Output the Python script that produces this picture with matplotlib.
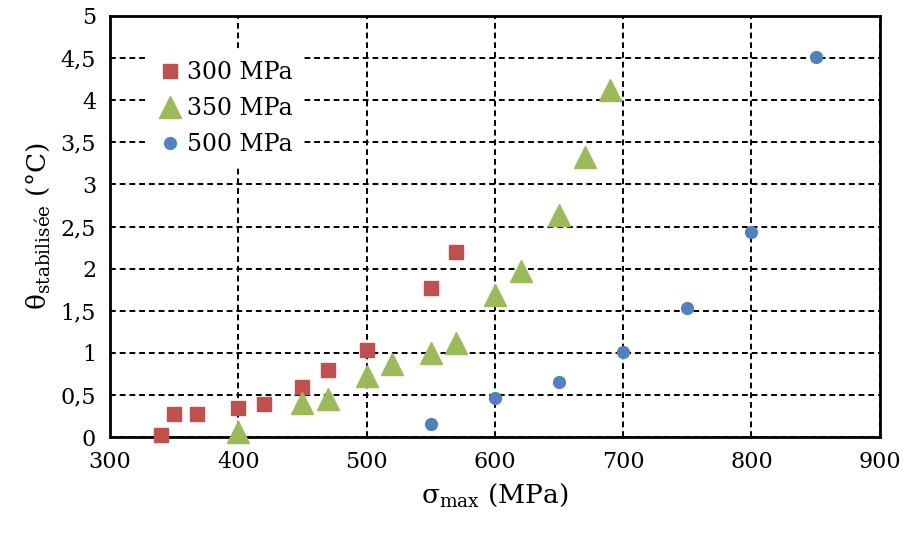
#!/usr/bin/env python3

"""Stabilised temperature vs max stress, three loading levels."""

import matplotlib
matplotlib.use("Agg")
import matplotlib.pyplot as plt
from matplotlib.ticker import FuncFormatter, MultipleLocator

plt.rcParams["font.family"] = "DejaVu Serif"
plt.rcParams["mathtext.fontset"] = "dejavuserif"

# 300 MPa series
x_300 = [340, 350, 368, 400, 420, 450, 470, 500, 550, 570]
y_300 = [0.02, 0.27, 0.27, 0.34, 0.39, 0.60, 0.80, 1.03, 1.77, 2.20]

# 350 MPa series
x_350 = [400, 450, 470, 500, 520, 550, 570, 600, 620, 650, 670, 690]
y_350 = [0.06, 0.40, 0.45, 0.73, 0.87, 1.00, 1.12, 1.69, 1.97, 2.64, 3.33, 4.12]

# 500 MPa series
x_500 = [550, 600, 650, 700, 750, 800, 850]
y_500 = [0.15, 0.46, 0.65, 1.01, 1.53, 2.43, 4.51]

labels = ["300 MPa", "350 MPa", "500 MPa"]


def comma(v, pos):
    s = ("%g" % v)
    return s.replace(".", ",")


fig = plt.figure(figsize=(9.06, 5.33), dpi=100)
ax = fig.add_axes([0.1214, 0.180, 0.8496, 0.790])

ax.plot(x_300, y_300, "s", color="#C0504D", markersize=9.5, label=labels[0],
        zorder=3, clip_on=False)
ax.plot(x_350, y_350, "^", color="#9BBB59", markersize=16, label=labels[1],
        zorder=3, clip_on=False)
ax.plot(x_500, y_500, "o", color="#4F81BD", markersize=8.5, label=labels[2],
        zorder=3, clip_on=False)

ax.set_xlim(300, 900)
ax.set_ylim(0, 5)
ax.xaxis.set_major_locator(MultipleLocator(100))
ax.yaxis.set_major_locator(MultipleLocator(0.5))
ax.yaxis.set_major_formatter(FuncFormatter(comma))
ax.grid(True, color="black", linestyle=(0, (3, 2)), linewidth=1.4)
ax.set_axisbelow(True)
ax.tick_params(length=0, labelsize=16, pad=10)
for sp in ax.spines.values():
    sp.set_linewidth(2)

ax.set_xlabel("σ$_{\\mathrm{max}}$ (MPa)", fontsize=19, labelpad=6)
ax.set_ylabel("θ$_{\\mathrm{stabilisée}}$ (°C)", fontsize=19, labelpad=6)

leg = ax.legend(loc="upper left", bbox_to_anchor=(0.05, 0.915), frameon=True,
                fontsize=17, handletextpad=0.25, borderpad=0.4, labelspacing=0.55,
                handlelength=1.0, borderaxespad=0)
leg.get_frame().set_edgecolor("white")
leg.get_frame().set_facecolor("white")
leg.get_frame().set_alpha(1)
leg.get_frame().set_boxstyle("square", pad=0)

fig.savefig("out.png", dpi=100)
